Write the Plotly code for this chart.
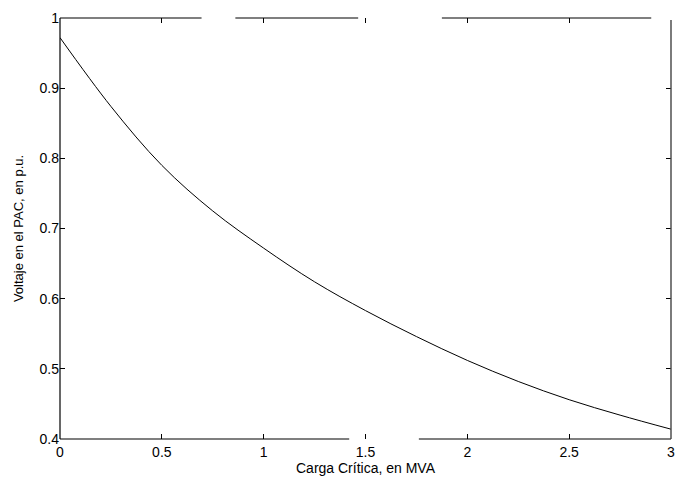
import plotly.graph_objects as go

carga = [0, 0.25, 0.5, 0.75, 1.0, 1.25, 1.5, 1.75, 2.0, 2.25, 2.5, 2.75, 3.0]
voltaje = [0.972, 0.874, 0.790, 0.725, 0.672, 0.624, 0.583, 0.546, 0.512, 0.482,
           0.456, 0.434, 0.414]

x_ticks = [0, 0.5, 1, 1.5, 2, 2.5, 3]
x_labels = ["0", "0.5", "1", "1.5", "2", "2.5", "3"]
y_ticks = [0.4, 0.5, 0.6, 0.7, 0.8, 0.9, 1.0]
y_labels = ["0.4", "0.5", "0.6", "0.7", "0.8", "0.9", "1"]

# frame segments (scan gaps in the original box), in x data units
top_segments = [(0, 0.695), (0.861, 1.464), (1.875, 2.903)]
bottom_segments = [(0, 1.42), (1.762, 3.0)]

fig = go.Figure()
fig.add_trace(go.Scatter(x=carga, y=voltaje, mode="lines",
                         line=dict(color="black", width=1, shape="spline"),
                         showlegend=False, hoverinfo="skip"))

shapes = []
for a, b in top_segments:
    shapes.append(dict(type="line", xref="x", yref="paper", x0=a, x1=b, y0=1, y1=1,
                       line=dict(color="black", width=1.2)))
for a, b in bottom_segments:
    shapes.append(dict(type="line", xref="x", yref="paper", x0=a, x1=b, y0=0, y1=0,
                       line=dict(color="black", width=1.2)))
shapes.append(dict(type="line", xref="paper", yref="paper", x0=0, x1=0, y0=0, y1=1,
                   line=dict(color="black", width=1.2)))
shapes.append(dict(type="line", xref="paper", yref="paper", x0=1, x1=1, y0=0, y1=0.995,
                   line=dict(color="#444444", width=1.4)))

font = dict(family="Liberation Sans, Arial, sans-serif", size=14, color="black")

fig.update_layout(
    width=676, height=479,
    margin=dict(l=60, r=5, t=18, b=40, autoexpand=False),
    paper_bgcolor="white", plot_bgcolor="white",
    font=font,
    shapes=shapes,
    xaxis=dict(range=[0, 3], tickvals=x_ticks, ticktext=x_labels,
               ticks="inside", ticklen=5, tickcolor="black", mirror="ticks",
               showline=False, showgrid=False, zeroline=False,
               title=dict(text="Carga Crítica, en MVA", font=dict(size=14), standoff=0),
               tickfont=dict(size=14), automargin=False, ticklabelstandoff=3,
               ticklabeloverflow="allow"),
    yaxis=dict(range=[0.4, 1.0], tickvals=y_ticks, ticktext=y_labels,
               ticks="inside", ticklen=5, tickcolor="black", mirror="ticks",
               showline=False, showgrid=False, zeroline=False,
               title=dict(text="Voltaje en el PAC, en p.u.", font=dict(size=13), standoff=12),
               tickfont=dict(size=14), automargin=False, ticklabelstandoff=0,
               ticklabeloverflow="allow"),
)

fig.write_html("out.html", config={"displayModeBar": False},
               post_script="document.body.style.margin='0';document.body.style.overflow='hidden';")
